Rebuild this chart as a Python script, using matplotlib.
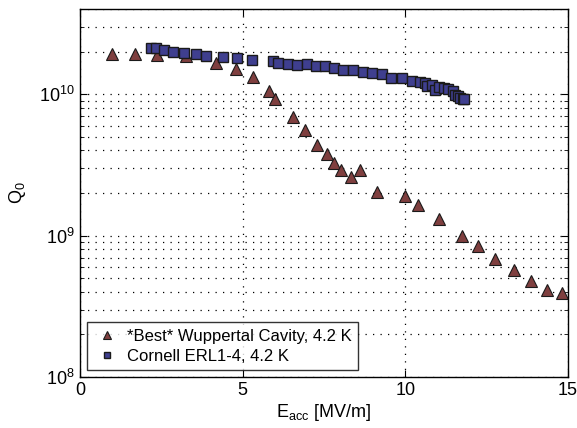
import numpy as np
import matplotlib
matplotlib.use("Agg")
import matplotlib.pyplot as plt
from matplotlib.ticker import LogLocator, NullFormatter

plt.rcParams["font.family"] = ["Liberation Sans", "DejaVu Sans"]
plt.rcParams["mathtext.fontset"] = "custom"
plt.rcParams["mathtext.rm"] = "Liberation Sans"
plt.rcParams["mathtext.it"] = "Liberation Sans:italic"

# *Best* Wuppertal cavity, 4.2 K
wup_e = [0.98, 1.7, 2.37, 3.26, 4.18, 4.8, 5.32, 5.82, 6.0, 6.56, 6.93, 7.29,
         7.6, 7.82, 8.03, 8.34, 8.6, 9.14, 10.0, 10.4, 11.05, 11.75, 12.25,
         12.77, 13.33, 13.88, 14.37, 14.83]
wup_q = [1.92e10, 1.92e10, 1.9e10, 1.85e10, 1.66e10, 1.5e10, 1.32e10, 1.05e10,
         9.2e9, 6.9e9, 5.6e9, 4.4e9, 3.8e9, 3.24e9, 2.9e9, 2.58e9, 2.9e9,
         2.04e9, 1.9e9, 1.64e9, 1.32e9, 1.0e9, 8.4e8, 6.8e8, 5.7e8, 4.8e8,
         4.1e8, 3.9e8]

# Cornell ERL1-4, 4.2 K
erl_e = [2.18, 2.34, 2.58, 2.87, 3.2, 3.57, 3.88, 4.41, 4.83, 5.3, 5.93, 6.1,
         6.4, 6.68, 6.98, 7.27, 7.54, 7.82, 8.1, 8.4, 8.71, 8.98, 9.29, 9.57,
         9.91, 10.2, 10.46, 10.62, 10.68, 10.83, 10.92, 11.05, 11.2, 11.32,
         11.48, 11.54, 11.63, 11.69, 11.78, 11.82]
erl_q = [2.11e10, 2.11e10, 2.04e10, 1.98e10, 1.95e10, 1.92e10, 1.85e10,
         1.83e10, 1.8e10, 1.74e10, 1.71e10, 1.66e10, 1.63e10, 1.6e10, 1.63e10,
         1.58e10, 1.58e10, 1.53e10, 1.48e10, 1.48e10, 1.43e10, 1.41e10,
         1.38e10, 1.3e10, 1.3e10, 1.24e10, 1.22e10, 1.2e10, 1.14e10, 1.16e10,
         1.07e10, 1.12e10, 1.1e10, 1.08e10, 1.05e10, 9.8e9, 9.7e9, 9.4e9,
         9.2e9, 9.2e9]

fig = plt.figure(figsize=(5.77, 4.28), dpi=100)
ax = fig.add_axes([0.1386, 0.119, 0.8456, 0.86])

ax.semilogy(wup_e, wup_q, ls="none", marker="^", ms=9, mfc="#7f3f3f",
            mec="#1a1a1a", mew=0.8, label="*Best* Wuppertal Cavity, 4.2 K")
ax.semilogy(erl_e, erl_q, ls="none", marker="s", ms=7.5, mfc="#3f3f8f",
            mec="#1a1a1a", mew=1.0, label="Cornell ERL1-4, 4.2 K")

ax.set_xlim(0, 15)
ax.set_ylim(1e8, 4e10)
ax.set_xticks([0, 5, 10, 15])
ax.yaxis.set_major_locator(LogLocator(base=10, numticks=10))
ax.yaxis.set_minor_locator(LogLocator(base=10, subs=np.arange(2, 10), numticks=10))
ax.yaxis.set_minor_formatter(NullFormatter())

dots = (0, (1, 5))
ax.grid(True, which="major", ls=dots, color="k", lw=0.9)
ax.grid(True, which="minor", axis="y", ls=dots, color="k", lw=0.9)
ax.tick_params(which="both", direction="in", top=True, right=True,
               labelsize=13)
ax.tick_params(which="major", length=5)
ax.tick_params(which="minor", length=3)
for s in ax.spines.values():
    s.set_linewidth(1.0)

ax.set_xlabel(r"E$_{\rm acc}$ [MV/m]", fontsize=13, labelpad=2)
ax.set_ylabel(r"Q$_0$", fontsize=13, labelpad=8)

leg = ax.legend(loc="lower left", fontsize=12, frameon=True, fancybox=False,
                edgecolor="k", borderaxespad=0.4, handletextpad=0.4,
                handlelength=1.6, labelspacing=0.3, markerscale=0.6)
leg.get_frame().set_linewidth(1.0)

fig.savefig("out.png", dpi=100)
plt.close(fig)
